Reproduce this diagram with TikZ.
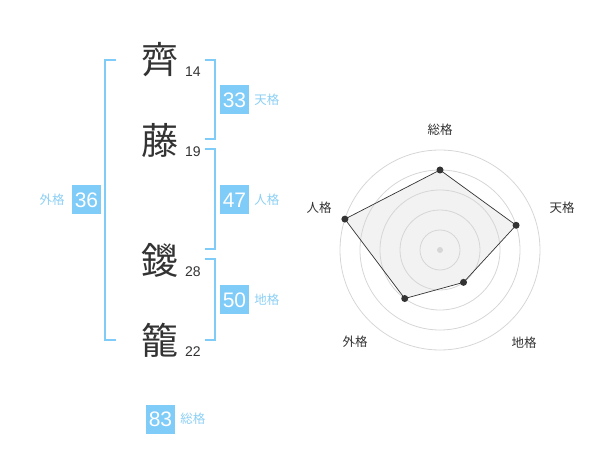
\documentclass[tikz,border=0pt]{standalone}
\usepackage{fontspec}
\setmainfont{Liberation Sans}
\newfontfamily\jpfont{Noto Sans CJK JP}
\usetikzlibrary{positioning, calc}
\definecolor{kakublue}{HTML}{80CCF8}
\definecolor{kakutext}{HTML}{8CCFF4}
\definecolor{ringgray}{HTML}{D6D6D6}
\definecolor{inkgray}{HTML}{333333}

\begin{document}
\begin{tikzpicture}[
        x=1pt, y=-1pt,
        kanji/.style={font=\jpfont\fontsize{37}{37}\selectfont, text=inkgray, inner sep=0pt},
        strokes/.style={font=\fontsize{14}{14}\selectfont, text=inkgray, inner sep=0pt},
        score/.style={fill=kakublue, text=white, font=\fontsize{21}{21}\selectfont, minimum size=29pt, inner sep=0pt},
        kaku/.style={font=\jpfont\fontsize{12.5}{12.5}\selectfont, text=kakutext, inner sep=0pt},
        bracket/.style={draw=kakublue, line width=2pt},
        ring/.style={draw=ringgray, line width=0.8pt},
        axislabel/.style={font=\jpfont\fontsize{12.5}{12.5}\selectfont, text=inkgray, inner sep=0pt},
        dot/.style={circle, fill=inkgray, minimum size=7pt, inner sep=0pt},
    ]
    \useasboundingbox (0,0) rectangle (600,470);

        % Draw the name characters with their stroke counts
        \foreach \name / \y / \ch / \n in {1/60/齊/14, 2/140/藤/19, 3/260/鑁/28, 4/340/籠/22}
        {
            \node[kanji] (C-\name) at (160,\y) {\ch};
            \node[strokes] (S-\name) at (193,\y+12) {\n};
        }

        % Draw the brackets
        \draw[bracket] (116,60) -- (105,60) -- (105,340) -- (116,340);
        \draw[bracket] (205,60) -- (215,60) -- (215,139) -- (205,139);
        \draw[bracket] (205,149) -- (215,149) -- (215,249) -- (205,249);
        \draw[bracket] (205,259) -- (215,259) -- (215,340) -- (205,340);

        % Draw the scores
        \node[score] (B-ten) at (234.5,100) {33};
        \node[kaku, right=5pt of B-ten] (L-ten) {天格};
        \node[score] (B-jin) at (234.5,200) {47};
        \node[kaku, right=5pt of B-jin] (L-jin) {人格};
        \node[score] (B-chi) at (234.5,300) {50};
        \node[kaku, right=5pt of B-chi] (L-chi) {地格};
        \node[score] (B-gai) at (86.5,200) {36};
        \node[kaku, left=7pt of B-gai] (L-gai) {外格};
        \node[score] (B-sou) at (160.5,419) {83};
        \node[kaku, right=5pt of B-sou] (L-sou) {総格};

        % Draw the radar chart
        \coordinate (R) at (440,250);
        \foreach \name / \a / \lv / \lx / \ly / \txt in {sou/-90/4/0/-120/総格, ten/-18/4/122/-42/天格, chi/54/2/84/93/地格, gai/126/3/-85/92/外格, jin/198/5/-121/-42/人格}
        {
            \coordinate (V-\name) at ($(R)+(\a:\lv*20)$);
            \node[axislabel] (A-\name) at ($(R)+(\lx,\ly)$) {\txt};
        }
        \fill[black!5] (V-sou) -- (V-ten) -- (V-chi) -- (V-gai) -- (V-jin) -- cycle;
        \foreach \r in {20,40,...,100}
            \draw[ring] (R) circle (\r);
        \fill[ringgray] (R) circle (3);
        \draw[inkgray, line width=0.7pt] (V-sou) -- (V-ten) -- (V-chi) -- (V-gai) -- (V-jin) -- cycle;
        \foreach \name in {sou,ten,chi,gai,jin}
            \node[dot] (P-\name) at (V-\name) {};
    \end{tikzpicture}
\end{document}
